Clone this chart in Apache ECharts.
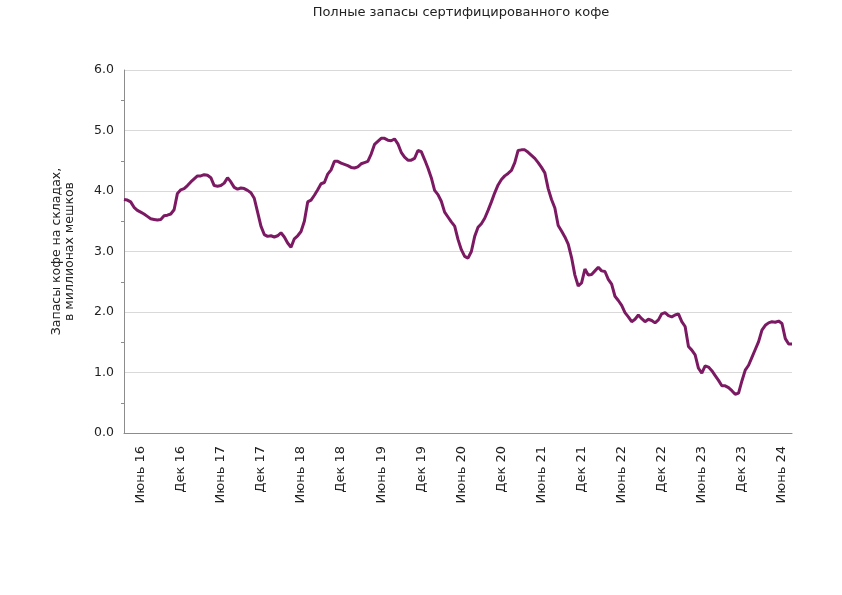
<!DOCTYPE html>
<html>
<head>
<meta charset="utf-8">
<script src="https://cdn.jsdelivr.net/npm/echarts@6/dist/echarts.min.js"></script>
<style>
  html, body { margin: 0; padding: 0; background: #fff; }
  #chart { width: 842px; height: 595px; }
</style>
</head>
<body>
<div id="chart"></div>
<script>
// полумесячные точки: 16.03.2016 ... 16.07.2024
const startYear = 2016, startMonth = 3, startHalf = 1;
const pointCount = 201;
const monthNames = { 6: 'Июнь', 12: 'Дек' };
const yTicks = [0, 1, 2, 3, 4, 5, 6];

// запасы, млн мешков
const stocks = [
  3.86, 3.85, 3.82, 3.73, 3.68, 3.65, 3.62, 3.58, 3.54, 3.53,
  3.52, 3.53, 3.59, 3.60, 3.62, 3.69, 3.96, 4.02, 4.04, 4.09,
  4.15, 4.20, 4.25, 4.25, 4.27, 4.26, 4.22, 4.09, 4.08, 4.09,
  4.13, 4.22, 4.15, 4.06, 4.03, 4.05, 4.04, 4.01, 3.97, 3.88,
  3.65, 3.42, 3.28, 3.25, 3.26, 3.24, 3.26, 3.31, 3.24, 3.14,
  3.07, 3.21, 3.26, 3.33, 3.50, 3.82, 3.85, 3.93, 4.02, 4.12,
  4.14, 4.28, 4.35, 4.49, 4.49, 4.46, 4.44, 4.42, 4.39, 4.38,
  4.40, 4.45, 4.47, 4.49, 4.61, 4.77, 4.82, 4.87, 4.87, 4.84,
  4.83, 4.86, 4.78, 4.64, 4.56, 4.51, 4.51, 4.54, 4.67, 4.65,
  4.52, 4.38, 4.22, 4.01, 3.94, 3.83, 3.65, 3.57, 3.49, 3.42,
  3.20, 3.03, 2.92, 2.89, 3.00, 3.25, 3.40, 3.46, 3.55, 3.68,
  3.82, 3.97, 4.10, 4.19, 4.25, 4.29, 4.34, 4.47, 4.67, 4.68,
  4.68, 4.64, 4.59, 4.54, 4.47, 4.39, 4.30, 4.04, 3.86, 3.72,
  3.43, 3.34, 3.24, 3.12, 2.90, 2.61, 2.43, 2.48, 2.71, 2.61,
  2.62, 2.68, 2.74, 2.68, 2.67, 2.54, 2.46, 2.26, 2.19, 2.11,
  1.99, 1.92, 1.84, 1.88, 1.95, 1.89, 1.84, 1.88, 1.86, 1.82,
  1.87, 1.97, 1.99, 1.94, 1.92, 1.95, 1.97, 1.84, 1.76, 1.43,
  1.37, 1.29, 1.07, 0.99, 1.11, 1.09, 1.03, 0.95, 0.87, 0.78,
  0.78, 0.75, 0.70, 0.64, 0.66, 0.86, 1.04, 1.12, 1.25, 1.38,
  1.51, 1.70, 1.78, 1.82, 1.84, 1.83, 1.85, 1.81, 1.56, 1.47,
  1.47
];

const dates = [];
for (let i = 0; i < pointCount; i++) {
  const k = (startMonth - 1) * 2 + startHalf + i;
  const y = startYear + Math.floor(k / 24);
  const m = Math.floor((k % 24) / 2) + 1;
  const d = k % 2 === 0 ? '01' : '16';
  dates.push(y + '-' + String(m).padStart(2, '0') + '-' + d);
}

function isLabelDate(s) {
  const m = +s.slice(5, 7);
  return s.slice(8) === '01' && (m === 6 || m === 12);
}

const font = 'DejaVu Sans';
const chart = echarts.init(document.getElementById('chart'), null, { renderer: 'canvas' });

const option = {
  animation: false,
  title: {
    text: 'Полные запасы сертифицированного кофе',
    left: 456,
    top: 1,
    textAlign: 'center',
    textStyle: { fontFamily: font, fontSize: 13, fontWeight: 'normal', color: '#222' }
  },
  grid: { left: 124, right: 50, top: 70, bottom: 162 },
  xAxis: {
    type: 'category',
    data: dates,
    boundaryGap: false,
    axisLine: { lineStyle: { color: '#8c8c8c', width: 1 } },
    axisTick: { show: false },
    axisLabel: {
      rotate: 90,
      margin: 13,
      interval: (idx, val) => isLabelDate(val),
      formatter: (val) => monthNames[+val.slice(5, 7)] + ' ' + val.slice(2, 4),
      fontFamily: font,
      fontSize: 13,
      color: '#222'
    },
    splitLine: { show: false }
  },
  yAxis: {
    type: 'value',
    min: yTicks[0],
    max: yTicks[yTicks.length - 1],
    interval: 1,
    name: 'Запасы кофе на складах,\nв миллионах мешков',
    nameLocation: 'middle',
    nameGap: 48,
    nameTextStyle: { fontFamily: font, fontSize: 12.5, color: '#222', lineHeight: 13 },
    axisLine: { show: true, lineStyle: { color: '#8c8c8c', width: 1 } },
    axisTick: { show: false },
    minorTick: { show: true, splitNumber: 2, length: 3, lineStyle: { color: '#8c8c8c' } },
    axisLabel: {
      margin: 10,
      formatter: (v) => v.toFixed(1),
      fontFamily: font,
      fontSize: 12.5,
      color: '#222'
    },
    splitLine: { show: true, lineStyle: { color: '#d9d9d9', width: 1 } }
  },
  series: [{
    type: 'line',
    data: stocks,
    showSymbol: false,
    symbol: 'none',
    lineStyle: { color: '#7b1a63', width: 3 },
    itemStyle: { color: '#7b1a63' }
  }]
};

chart.setOption(option);
</script>
</body>
</html>
